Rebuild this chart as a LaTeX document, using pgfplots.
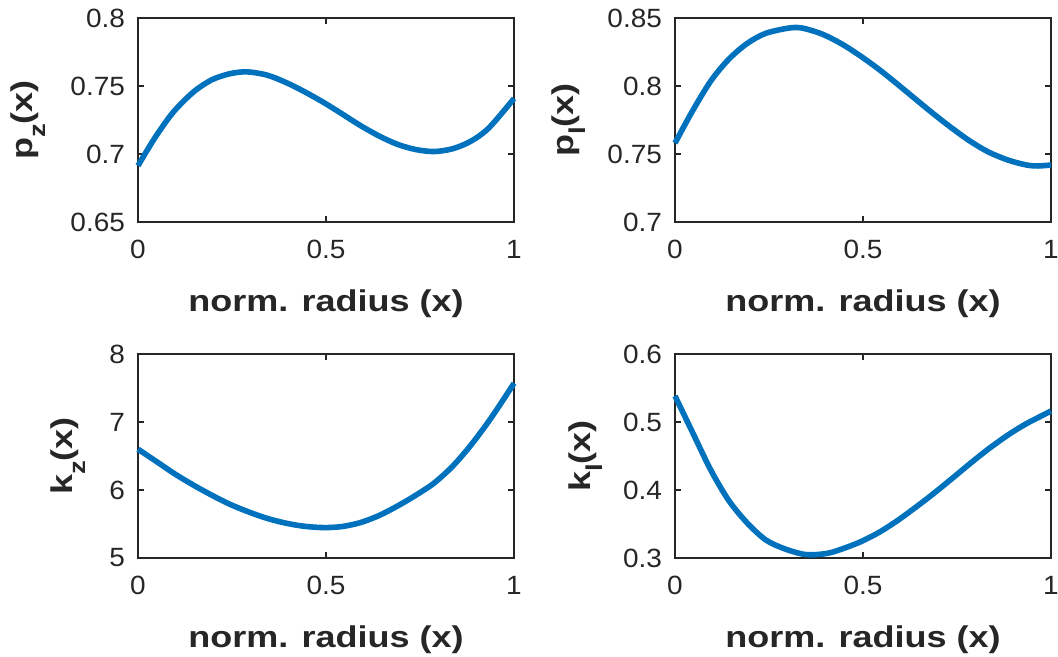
\documentclass[border=0pt]{standalone}
\usepackage{fontspec}
\setmainfont{Liberation Sans}
\newfontfamily\labfont{Liberation Sans}[FakeStretch=1.2]
\newfontfamily\tickfont{Liberation Sans}[FakeStretch=1.06]
\usepackage{pgfplots}
\usepackage{pgfplotstable}
\pgfplotsset{compat=1.18}
\usetikzlibrary{calc}

\definecolor{mblue}{RGB}{0,114,189}
\definecolor{axgray}{RGB}{38,38,38}

\pgfplotstableread{
x y
0 0.6914
0.044 0.7115
0.093 0.7305
0.147 0.7455
0.196 0.7545
0.244 0.7590
0.289 0.7604
0.342 0.7581
0.391 0.7529
0.44 0.7462
0.493 0.7380
0.542 0.7296
0.591 0.7210
0.64 0.7134
0.689 0.7072
0.738 0.7033
0.787 0.7018
0.836 0.7038
0.884 0.7092
0.933 0.7191
1 0.7408
}\pz

\pgfplotstableread{
x y
0 0.758
0.046 0.7814
0.095 0.8036
0.143 0.8197
0.192 0.8313
0.241 0.8387
0.303 0.8426
0.338 0.8426
0.391 0.8382
0.444 0.8308
0.493 0.8221
0.542 0.8123
0.590 0.8017
0.639 0.7905
0.688 0.7794
0.736 0.7691
0.785 0.7594
0.834 0.7514
0.887 0.7454
0.935 0.7419
0.966 0.7412
1 0.7419
}\pl

\pgfplotstableread{
x y
0 6.60
0.049 6.419
0.098 6.236
0.147 6.073
0.196 5.924
0.244 5.791
0.293 5.680
0.342 5.585
0.391 5.515
0.44 5.468
0.493 5.447
0.542 5.462
0.591 5.520
0.64 5.622
0.689 5.761
0.738 5.920
0.787 6.100
0.836 6.345
0.884 6.650
0.933 7.012
0.973 7.340
1 7.570
}\kz

\pgfplotstableread{
x y
0 0.5383
0.046 0.4855
0.095 0.4295
0.143 0.3845
0.192 0.3515
0.241 0.3267
0.289 0.3140
0.338 0.3059
0.373 0.3049
0.418 0.3085
0.488 0.3225
0.542 0.3375
0.590 0.3544
0.639 0.3741
0.688 0.3949
0.736 0.4165
0.785 0.4390
0.834 0.4605
0.887 0.4814
0.935 0.4977
1 0.5160
}\kl

\newcommand{\sub}[1]{\raisebox{-0.42em}{\fontsize{11.5}{12}\selectfont #1}}

\pgfplotsset{
  mystyle/.style={
    scale only axis, width=188pt, height=102pt, anchor=south west,
    xmin=0, xmax=1, xtick={0,0.5,1},
    axis line style={axgray, line width=0.8pt},
    tick style={axgray, line width=0.8pt},
    major tick length=3pt,
    tick align=inside,
    tick label style={font=\tickfont\fontsize{13.2}{15}\selectfont, text=axgray},
    /pgf/number format/assume math mode=true,
    xticklabel style={yshift=-5.5pt},
    yticklabel style={xshift=-3pt},
    every axis x label/.style={at={($(rel axis cs:0.5,0)+(0,-44.8pt)$)}, anchor=base,
      font=\labfont\bfseries\fontsize{15}{18}\selectfont, text=axgray},
    xlabel={norm. radius (x)},
    clip=false,
  },
  ylab/.style={every axis y label/.style={at={($(rel axis cs:0,0.5)+(-#1,0)$)}, rotate=90, anchor=base,
      font=\labfont\bfseries\fontsize{15}{18}\selectfont, text=axgray}},
  curve/.style={mblue, line width=2.8pt, smooth},
}

\begin{document}
\begin{tikzpicture}
\path[use as bounding box] (0,0) rectangle (529pt,328.5pt);

\begin{axis}[mystyle, at={(69pt,217.5pt)}, ymin=0.65, ymax=0.8,
  ytick={0.65,0.7,0.75,0.8}, ylab=52.5pt, ylabel={p\sub{z}(x)}]
\addplot[curve] table[x=x,y=y] {\pz};
\end{axis}

\begin{axis}[mystyle, at={(337.5pt,217.5pt)}, ymin=0.7, ymax=0.85,
  ytick={0.7,0.75,0.8,0.85}, ylab=51pt, ylabel={p\sub{l}(x)}]
\addplot[curve] table[x=x,y=y] {\pl};
\end{axis}

\begin{axis}[mystyle, at={(69pt,49.5pt)}, ymin=5, ymax=8,
  ytick={5,6,7,8}, ylab=32.5pt, ylabel={k\sub{z}(x)}]
\addplot[curve] table[x=x,y=y] {\kz};
\end{axis}

\begin{axis}[mystyle, at={(337.5pt,49.5pt)}, ymin=0.3, ymax=0.6,
  ytick={0.3,0.4,0.5,0.6}, ylab=42.5pt, ylabel={k\sub{l}(x)}]
\addplot[curve] table[x=x,y=y] {\kl};
\end{axis}
\end{tikzpicture}
\end{document}
